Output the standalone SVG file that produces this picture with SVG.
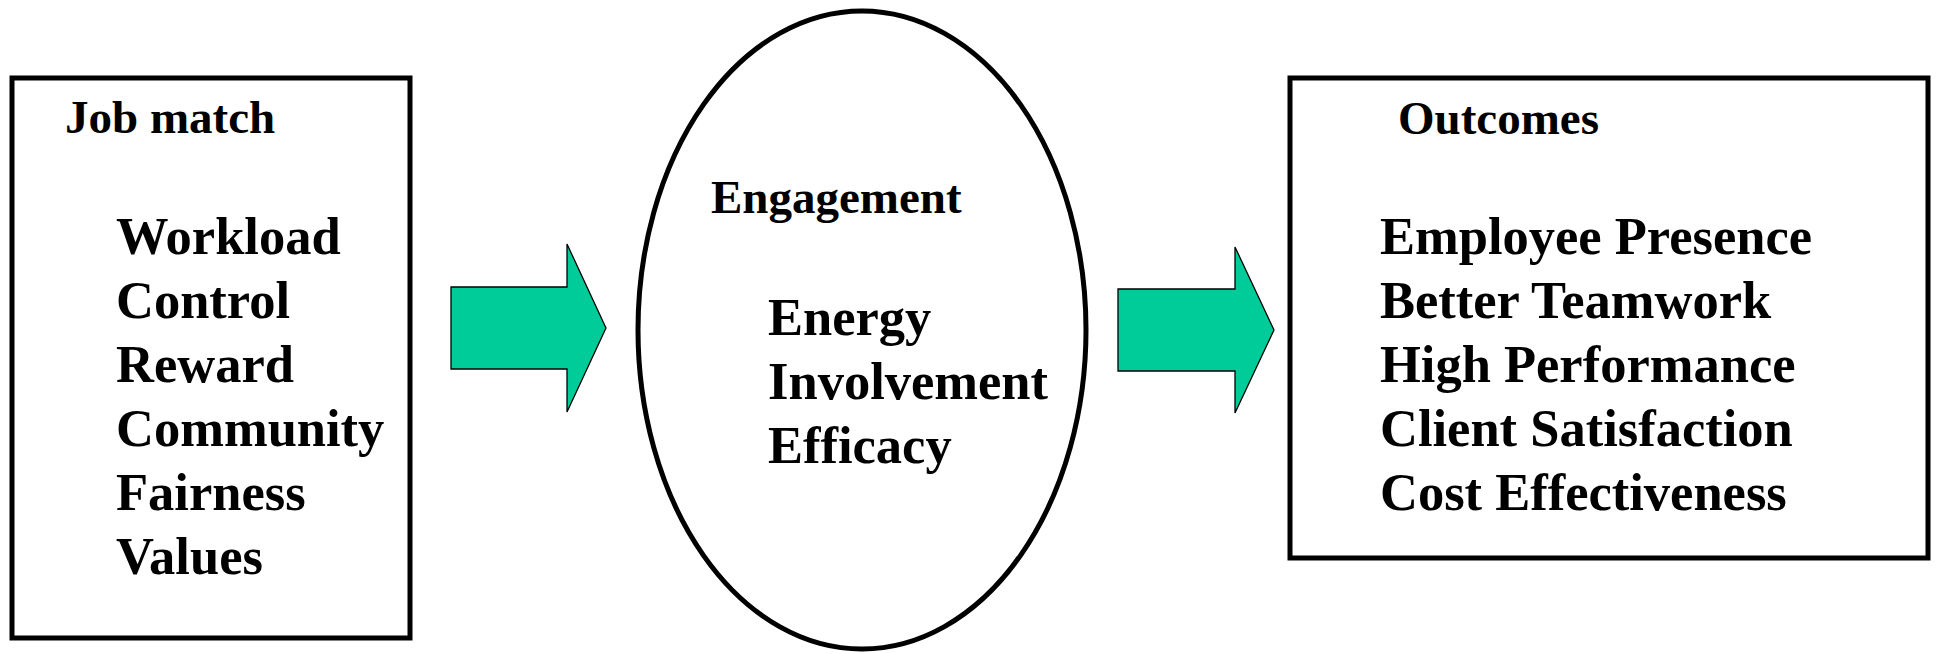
<svg xmlns="http://www.w3.org/2000/svg" width="1939" height="654" viewBox="0 0 1939 654">
  <style>
    .frame { fill: #ffffff; stroke: #000000; stroke-width: 5; }
    .flow { fill: #00CC99; stroke: #000000; stroke-width: 1.3; stroke-linejoin: miter; }
    .title { font-family: "Liberation Serif", "Times New Roman", serif; font-weight: bold; font-size: 47px; fill: #000000; }
    .item { font-family: "Liberation Serif", "Times New Roman", serif; font-weight: bold; font-size: 52.5px; fill: #000000; }
  </style>
  <rect width="1939" height="654" fill="#ffffff"/>

  <!-- Left block: job match factors -->
  <g id="job-match">
    <rect class="frame" x="12" y="78" width="398" height="560"/>
    <text class="title" x="65" y="133">Job match</text>
    <text class="item" x="116" y="254">Workload</text>
    <text class="item" x="116" y="318">Control</text>
    <text class="item" x="116" y="382">Reward</text>
    <text class="item" x="116" y="446">Community</text>
    <text class="item" x="116" y="510">Fairness</text>
    <text class="item" x="116" y="574">Values</text>
  </g>

  <!-- Centre block: engagement -->
  <g id="engagement">
    <ellipse class="frame" cx="862" cy="330" rx="224" ry="319"/>
    <text class="title" x="711" y="213">Engagement</text>
    <text class="item" x="768" y="335">Energy</text>
    <text class="item" x="768" y="399">Involvement</text>
    <text class="item" x="768" y="463">Efficacy</text>
  </g>

  <!-- Right block: outcomes -->
  <g id="outcomes">
    <rect class="frame" x="1290" y="78" width="638" height="480"/>
    <text class="title" x="1398" y="134">Outcomes</text>
    <text class="item" x="1380" y="254">Employee Presence</text>
    <text class="item" x="1380" y="318">Better Teamwork</text>
    <text class="item" x="1380" y="382">High Performance</text>
    <text class="item" x="1380" y="446">Client Satisfaction</text>
    <text class="item" x="1380" y="510">Cost Effectiveness</text>
  </g>

  <!-- Block arrows between the stages -->
  <g id="connectors">
    <polygon class="flow" points="451,287 567,287 567,244 606,328 567,412 567,369 451,369"/>
    <polygon class="flow" points="1118,289 1235,289 1235,247 1274,330 1235,413 1235,371 1118,371"/>
  </g>
</svg>
